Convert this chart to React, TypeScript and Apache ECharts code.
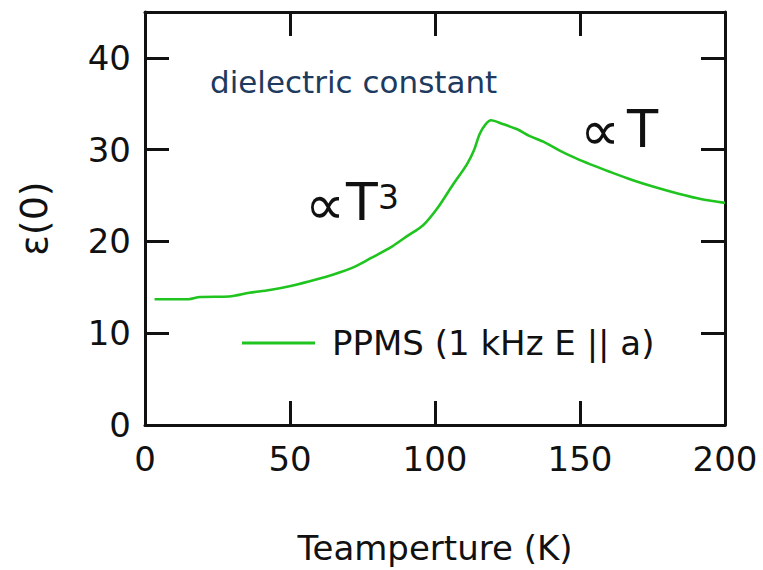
import React, { useEffect, useRef } from "react";
import * as echarts from "echarts";

const temperatures = [3.3, 15, 19, 29, 36, 43, 51, 59, 65, 72, 78, 85, 90, 96, 101, 106, 111, 113.4, 115.4, 117.3, 119.3, 123.3, 128.5, 132.5, 137.8, 143, 148.3, 153.6, 160.2, 168, 176, 184, 192, 200];
const epsilon = [13.7, 13.7, 13.95, 14.0, 14.4, 14.7, 15.2, 15.85, 16.4, 17.2, 18.2, 19.4, 20.5, 21.8, 23.7, 26.1, 28.4, 29.9, 31.7, 32.7, 33.2, 32.8, 32.2, 31.5, 30.8, 29.9, 29.1, 28.4, 27.6, 26.7, 25.9, 25.2, 24.6, 24.2];
const seriesName = "PPMS (1 kHz E || a)";
const xTitle = "Teamperture (K)";
const yTitle = "ε(0)";

const FONT = "DejaVu Sans";
const GREEN = "#1fc41f";
const INK = "#111111";

export default function App() {
  const ref = useRef<HTMLDivElement>(null);
  useEffect(() => {
    document.body.style.margin = "0";
    const chart = echarts.init(ref.current!, null, { renderer: "svg" });
    const axisLine = { show: true, onZero: false, lineStyle: { color: INK, width: 3 } };
    const axisTick = { show: true, inside: true, length: 24, lineStyle: { color: INK, width: 3 } };
    chart.setOption({
      animation: false,
      backgroundColor: "#ffffff",
      grid: { left: 145, right: 38, top: 12, bottom: 144, containLabel: false },
      legend: {
        data: [seriesName],
        left: 237,
        top: 321,
        icon: "rect",
        itemWidth: 73,
        itemHeight: 3,
        itemGap: 0,
        textStyle: { fontFamily: FONT, fontSize: 34, color: INK, padding: [0, 0, 0, 12] },
      },
      xAxis: [
        {
          type: "value",
          min: 0,
          max: 200,
          interval: 50,
          position: "bottom",
          name: xTitle,
          nameLocation: "middle",
          nameGap: 106,
          nameTextStyle: { fontFamily: FONT, fontSize: 34, color: INK },
          axisLine,
          axisTick,
          axisLabel: { fontFamily: FONT, fontSize: 34, color: INK, margin: 17 },
          splitLine: { show: false },
        },
        {
          type: "value",
          min: 0,
          max: 200,
          interval: 50,
          position: "top",
          axisLine,
          axisTick,
          axisLabel: { show: false },
          splitLine: { show: false },
        },
      ],
      yAxis: [
        {
          type: "value",
          min: 0,
          max: 45,
          interval: 10,
          position: "left",
          name: yTitle,
          nameLocation: "middle",
          nameGap: 92,
          nameTextStyle: { fontFamily: FONT, fontSize: 38, color: INK },
          axisLine,
          axisTick,
          axisLabel: { fontFamily: FONT, fontSize: 34, color: INK, margin: 14, showMaxLabel: false },
          splitLine: { show: false },
        },
        {
          type: "value",
          min: 0,
          max: 45,
          interval: 10,
          position: "right",
          axisLine,
          axisTick,
          axisLabel: { show: false },
          splitLine: { show: false },
        },
      ],
      series: [
        {
          name: seriesName,
          type: "line",
          data: temperatures.map((t, i) => [t, epsilon[i]]),
          symbol: "none",
          smooth: 0.3,
          lineStyle: { color: GREEN, width: 2.6 },
          itemStyle: { color: GREEN },
          xAxisIndex: 0,
          yAxisIndex: 0,
        },
      ],
      graphic: [
        {
          type: "text",
          left: 210,
          top: 66,
          style: { text: "dielectric constant", fontFamily: FONT, fontSize: 31, fill: "#1d3a5f" },
        },
        {
          type: "text",
          x: 305,
          y: 204,
          style: { text: "∝", fontFamily: FONT, fontSize: 56, fill: INK, verticalAlign: "middle", align: "left" },
        },
        {
          type: "text",
          x: 346,
          y: 202,
          style: { text: "T", fontFamily: FONT, fontSize: 52, fill: INK, verticalAlign: "middle", align: "left" },
        },
        {
          type: "text",
          x: 378,
          y: 197,
          style: { text: "3", fontFamily: FONT, fontSize: 33, fill: INK, verticalAlign: "middle", align: "left" },
        },
        {
          type: "text",
          x: 580,
          y: 130,
          style: { text: "∝", fontFamily: FONT, fontSize: 56, fill: INK, verticalAlign: "middle", align: "left" },
        },
        {
          type: "text",
          x: 627,
          y: 129,
          style: { text: "T", fontFamily: FONT, fontSize: 51, fill: INK, verticalAlign: "middle", align: "left" },
        },
      ],
    });
    return () => chart.dispose();
  }, []);
  return <div ref={ref} style={{ width: 763, height: 570 }} />;
}
